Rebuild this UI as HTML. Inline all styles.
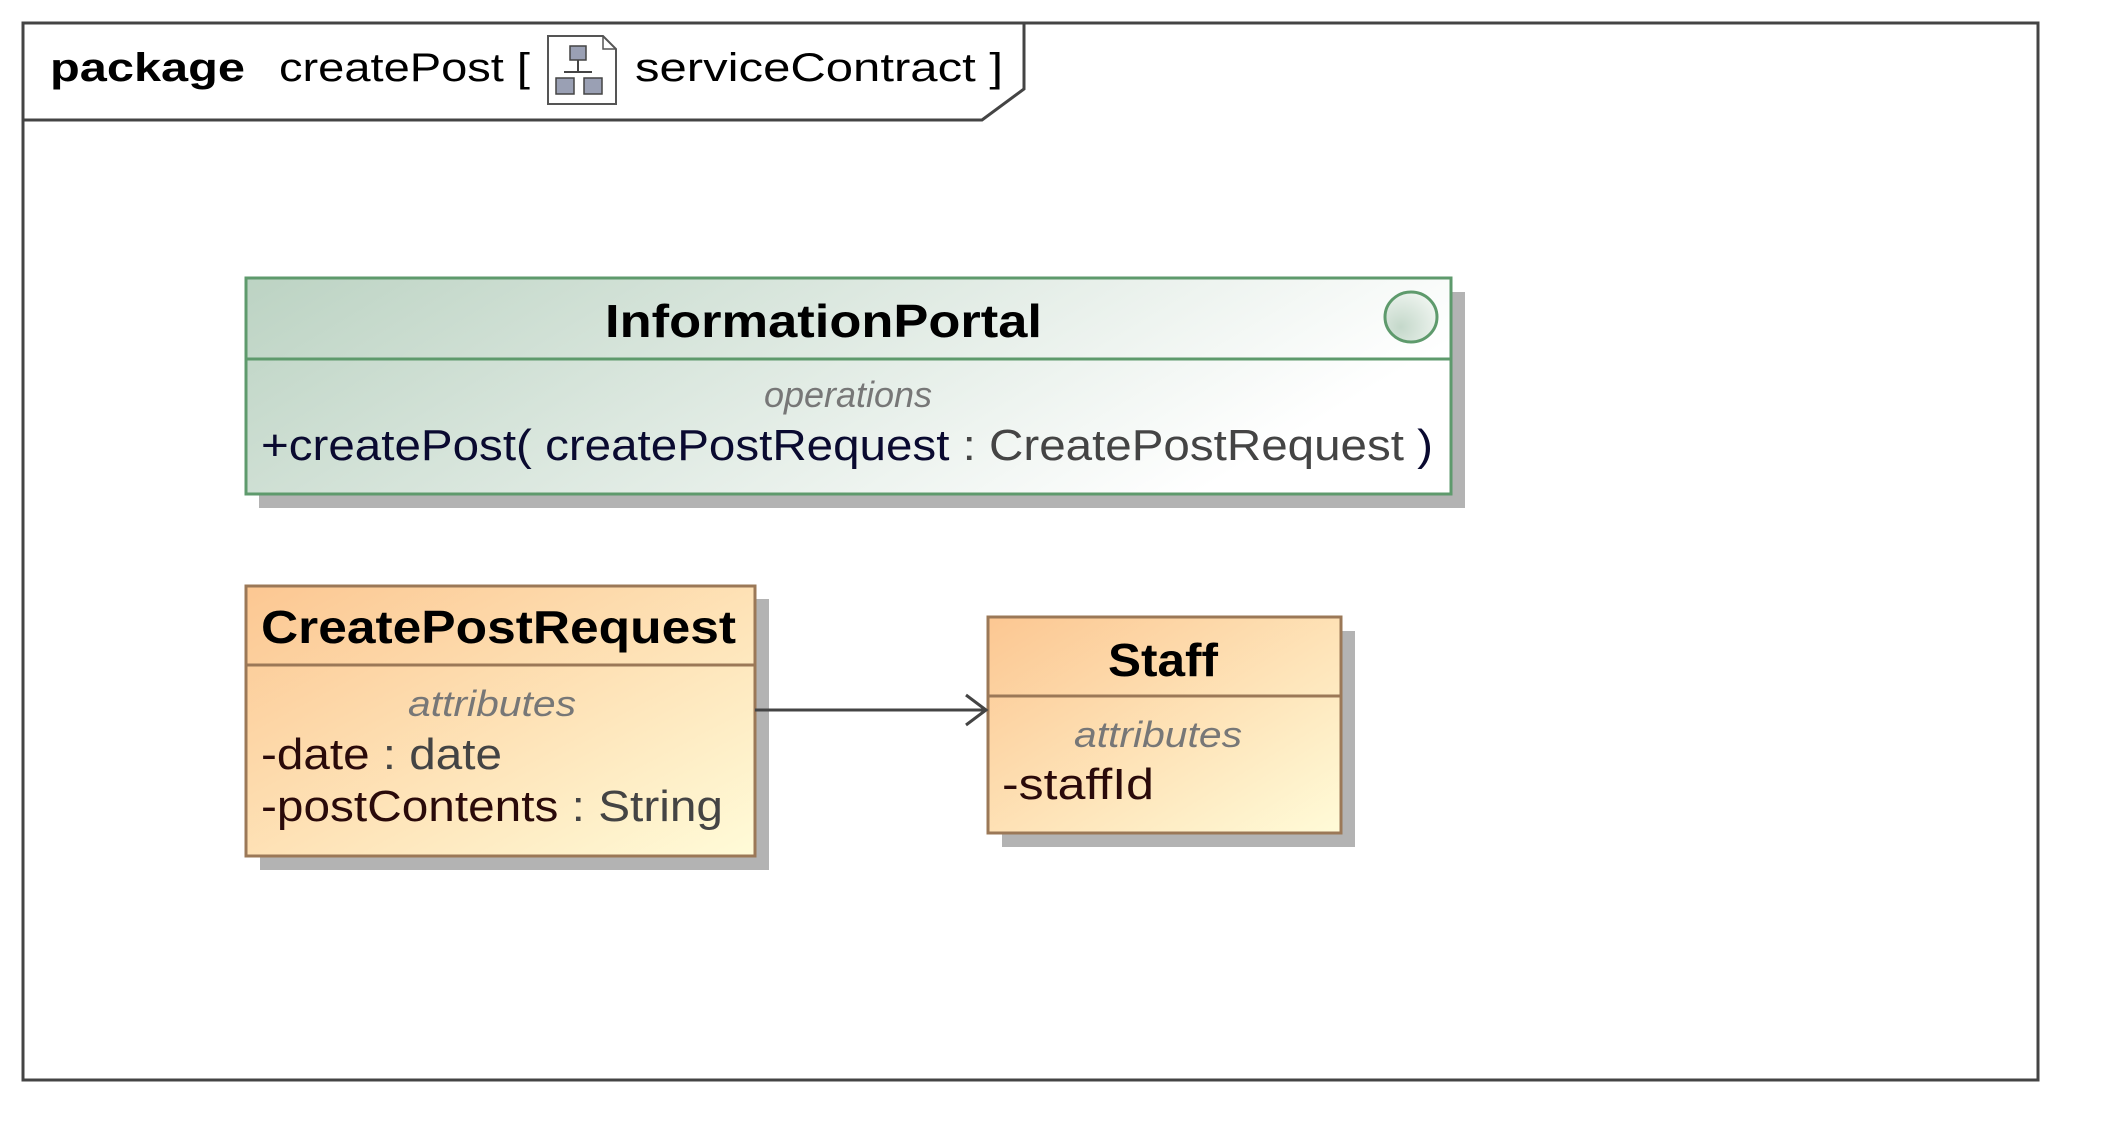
<!DOCTYPE html>
<html><head><meta charset="utf-8"><style>html,body{margin:0;padding:0;background:#fff}svg{display:block}</style></head>
<body>
<svg width="2104" height="1147" viewBox="0 0 2104 1147" xmlns="http://www.w3.org/2000/svg" font-family="Liberation Sans, Arial, sans-serif">
<defs>
<linearGradient id="gg" x1="0" y1="0" x2="1" y2="0.3"><stop offset="0" stop-color="#bcd3c3"/><stop offset="1" stop-color="#ffffff"/></linearGradient>
<linearGradient id="og" x1="0" y1="0" x2="1" y2="1"><stop offset="0" stop-color="#fcc792"/><stop offset="1" stop-color="#fffbd8"/></linearGradient>
<radialGradient id="cg" cx="0.3" cy="0.7" r="0.9"><stop offset="0" stop-color="#c4d8ca"/><stop offset="1" stop-color="#f6f9f6"/></radialGradient>
</defs>
<!-- frame -->
<rect x="23" y="23" width="2015" height="1057" fill="#fff" stroke="#444" stroke-width="3"/>
<path d="M23 120 L982 120 L1024 89 L1024 23" fill="none" stroke="#444" stroke-width="3"/>
<text x="50" y="81" font-size="40" font-weight="bold" textLength="195" lengthAdjust="spacingAndGlyphs">package</text>
<text x="279" y="81" font-size="40" textLength="251" lengthAdjust="spacingAndGlyphs">createPost [</text>
<g>
<path d="M548 36 L603 36 L616 49 L616 104 L548 104 Z" fill="#fff" stroke="#555" stroke-width="2"/>
<path d="M603 36 L603 49 L616 49" fill="none" stroke="#555" stroke-width="1.5"/>
<rect x="570" y="46" width="16" height="14" fill="#9aa0b4" stroke="#444" stroke-width="1.5"/>
<line x1="578" y1="60" x2="578" y2="72" stroke="#444" stroke-width="2"/>
<line x1="564" y1="72" x2="592" y2="72" stroke="#444" stroke-width="2"/>
<rect x="556" y="78" width="18" height="16" fill="#9aa0b4" stroke="#444" stroke-width="1.5"/>
<rect x="584" y="78" width="18" height="16" fill="#9aa0b4" stroke="#444" stroke-width="1.5"/>
</g>
<text x="635" y="81" font-size="40" textLength="368" lengthAdjust="spacingAndGlyphs">serviceContract ]</text>

<!-- InformationPortal -->
<rect x="259" y="292" width="1206" height="216" fill="#b3b3b3"/>
<rect x="246" y="278" width="1205" height="216" fill="url(#gg)" stroke="#5e9a6c" stroke-width="3"/>
<line x1="246" y1="359" x2="1451" y2="359" stroke="#5e9a6c" stroke-width="3"/>
<ellipse cx="1411" cy="317" rx="26" ry="25" fill="url(#cg)" stroke="#5e9a6c" stroke-width="3"/>
<text x="605" y="337" font-size="46" font-weight="bold" textLength="437" lengthAdjust="spacingAndGlyphs">InformationPortal</text>
<text x="848" y="407" font-size="36" font-style="italic" fill="#777" text-anchor="middle">operations</text>
<text x="261" y="460" font-size="44" textLength="1172" lengthAdjust="spacingAndGlyphs"><tspan fill="#0a0a30">+createPost( createPostRequest </tspan><tspan fill="#444">: CreatePostRequest </tspan><tspan fill="#0a0a30">)</tspan></text>

<!-- CreatePostRequest -->
<rect x="260" y="599" width="509" height="271" fill="#b3b3b3"/>
<rect x="246" y="586" width="509" height="270" fill="url(#og)" stroke="#9b7857" stroke-width="3"/>
<line x1="246" y1="665" x2="755" y2="665" stroke="#9b7857" stroke-width="3"/>
<text x="261" y="643" font-size="46" font-weight="bold" textLength="475" lengthAdjust="spacingAndGlyphs">CreatePostRequest</text>
<text x="408" y="716" font-size="36" font-style="italic" fill="#777" textLength="168" lengthAdjust="spacingAndGlyphs">attributes</text>
<text x="261" y="769" font-size="44" textLength="241" lengthAdjust="spacingAndGlyphs"><tspan fill="#2a0a0a">-date </tspan><tspan fill="#444">: date</tspan></text>
<text x="261" y="821" font-size="44" textLength="462" lengthAdjust="spacingAndGlyphs"><tspan fill="#2a0a0a">-postContents </tspan><tspan fill="#444">: String</tspan></text>

<!-- Staff -->
<rect x="1002" y="631" width="353" height="216" fill="#b3b3b3"/>
<rect x="988" y="617" width="353" height="216" fill="url(#og)" stroke="#9b7857" stroke-width="3"/>
<line x1="988" y1="696" x2="1341" y2="696" stroke="#9b7857" stroke-width="3"/>
<text x="1108" y="676" font-size="46" font-weight="bold" textLength="110" lengthAdjust="spacingAndGlyphs">Staff</text>
<text x="1074" y="747" font-size="36" font-style="italic" fill="#777" textLength="168" lengthAdjust="spacingAndGlyphs">attributes</text>
<text x="1002" y="799" font-size="44" fill="#2a0a0a" textLength="152" lengthAdjust="spacingAndGlyphs">-staffId</text>

<!-- arrow -->
<line x1="755" y1="710" x2="986" y2="710" stroke="#444" stroke-width="3"/>
<path d="M966 695 L986 710 L966 725" fill="none" stroke="#444" stroke-width="3"/>
</svg>
</body></html>
